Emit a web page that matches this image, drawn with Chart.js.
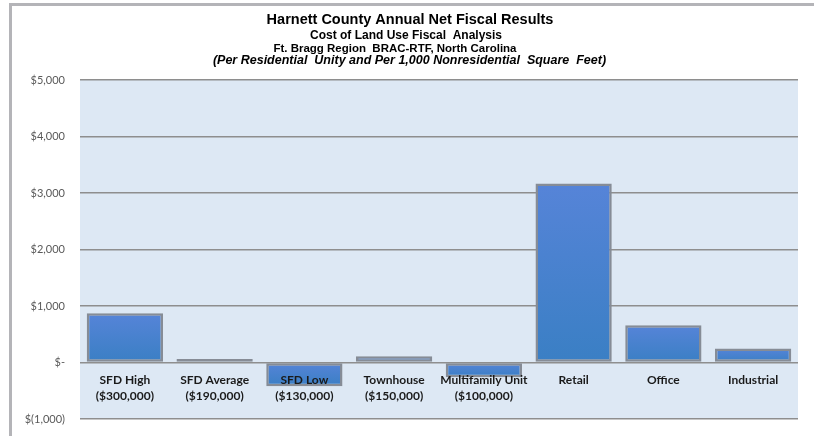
<!DOCTYPE html>
<html>
<head>
<meta charset="utf-8">
<script src="https://cdn.jsdelivr.net/npm/chart.js@4/dist/chart.umd.min.js"></script>
<style>
  html, body { margin: 0; padding: 0; background: #fff; }
  #wrap { position: relative; width: 814px; height: 436px; }
  #frame {
    position: absolute; left: 9px; top: 3px; width: 820px; height: 460px;
    border-left: 3px solid #b4b4b8; border-top: 3px solid #b4b4b8;
    pointer-events: none;
  }
</style>
</head>
<body>
<div id="wrap">
  <canvas id="chart" width="814" height="436"></canvas>
  <div id="frame"></div>
</div>
<script>
// data
const categories = [
  ['SFD High', '($300,000)'],
  ['SFD Average', '($190,000)'],
  ['SFD Low', '($130,000)'],
  ['Townhouse', '($150,000)'],
  ['Multifamily Unit', '($100,000)'],
  'Retail',
  'Office',
  'Industrial'
];
const netFiscal = [870, 60, -420, 110, -260, 3170, 660, 250];
const yTicks = [-1000, 0, 1000, 2000, 3000, 4000, 5000];
const yTickLabels = ['$(1,000)', '$-', '$1,000', '$2,000', '$3,000', '$4,000', '$5,000'];

const titleLines = [
  { text: 'Harnett County Annual Net Fiscal Results', font: 'bold 14.5px "Liberation Sans", Arial', x: 410, y: 20, w: 289 },
  { text: 'Cost of Land Use Fiscal  Analysis', font: 'bold 12px "Liberation Sans", Arial', x: 406, y: 35.5, w: 192 },
  { text: 'Ft. Bragg Region  BRAC-RTF, North Carolina', font: 'bold 11.7px "Liberation Sans", Arial', x: 395, y: 48.5, w: 243 },
  { text: '(Per Residential  Unity and Per 1,000 Nonresidential  Square  Feet)', font: 'italic bold 12.5px "Liberation Sans", Arial', x: 409.5, y: 60.5, w: 399 }
];

const titlePlugin = {
  id: 'titleLines',
  afterDraw(chart) {
    const ctx = chart.ctx;
    ctx.save();
    ctx.fillStyle = '#000';
    ctx.textAlign = 'center';
    ctx.textBaseline = 'middle';
    titleLines.forEach(l => {
      ctx.font = l.font;
      ctx.fillText(l.text, l.x, l.y, l.w);
    });
    ctx.restore();
  }
};

const plotBgPlugin = {
  id: 'plotBg',
  beforeDraw(chart) {
    const { ctx, chartArea: a } = chart;
    ctx.save();
    ctx.fillStyle = '#dde8f4';
    ctx.fillRect(a.left, a.top, a.right - a.left, a.bottom - a.top);
    ctx.restore();
  }
};

function barFill(c) {
  const chart = c.chart;
  const y = chart.scales.y;
  if (!y || !c.parsed) return '#4680cf';
  const p0 = y.getPixelForValue(0);
  const p1 = y.getPixelForValue(c.parsed.y);
  if (!isFinite(p0) || !isFinite(p1)) return '#4680cf';
  const top = Math.min(p0, p1), bot = Math.max(p0, p1);
  if (bot - top < 1) return '#4680cf';
  const g = chart.ctx.createLinearGradient(0, top, 0, bot);
  g.addColorStop(0, '#5684d8');
  g.addColorStop(1, '#3a7fc4');
  return g;
}

new Chart(document.getElementById('chart'), {
  type: 'bar',
  data: {
    labels: categories,
    datasets: [{
      data: netFiscal,
      backgroundColor: barFill,
      borderColor: '#868c96',
      borderWidth: 2.5,
      borderSkipped: false,
      categoryPercentage: 1,
      barPercentage: 0.85
    }]
  },
  options: {
    responsive: false,
    animation: false,
    layout: { padding: { top: 80, left: 10, right: 16, bottom: 17 } },
    plugins: {
      legend: { display: false },
      tooltip: { enabled: false }
    },
    scales: {
      x: {
        position: { y: 0 },
        afterFit(s) { s.height = 0; },
        grid: { display: false, drawTicks: false },
        border: { display: false },
        ticks: {
          z: 1,
          padding: 10,
          color: '#1a1a1a',
          maxRotation: 0,
          autoSkip: false,
          font: { family: 'Lato', size: 12, weight: 'bold', lineHeight: 1.3 }
        }
      },
      y: {
        min: -1000,
        max: 5000,
        afterFit(s) { s.width = 70; s.paddingTop = 7; s.paddingBottom = 7; },
        afterBuildTicks(s) { s.ticks = yTicks.map(v => ({ value: v })); },
        grid: { color: '#8e8e8e', lineWidth: 1.5, drawTicks: false },
        border: { display: false },
        ticks: {
          padding: 15,
          color: '#595959',
          font: { family: 'Lato', size: 11 },
          callback: (v) => yTickLabels[yTicks.indexOf(v)]
        }
      }
    }
  },
  plugins: [plotBgPlugin, titlePlugin]
});
</script>
</body>
</html>
